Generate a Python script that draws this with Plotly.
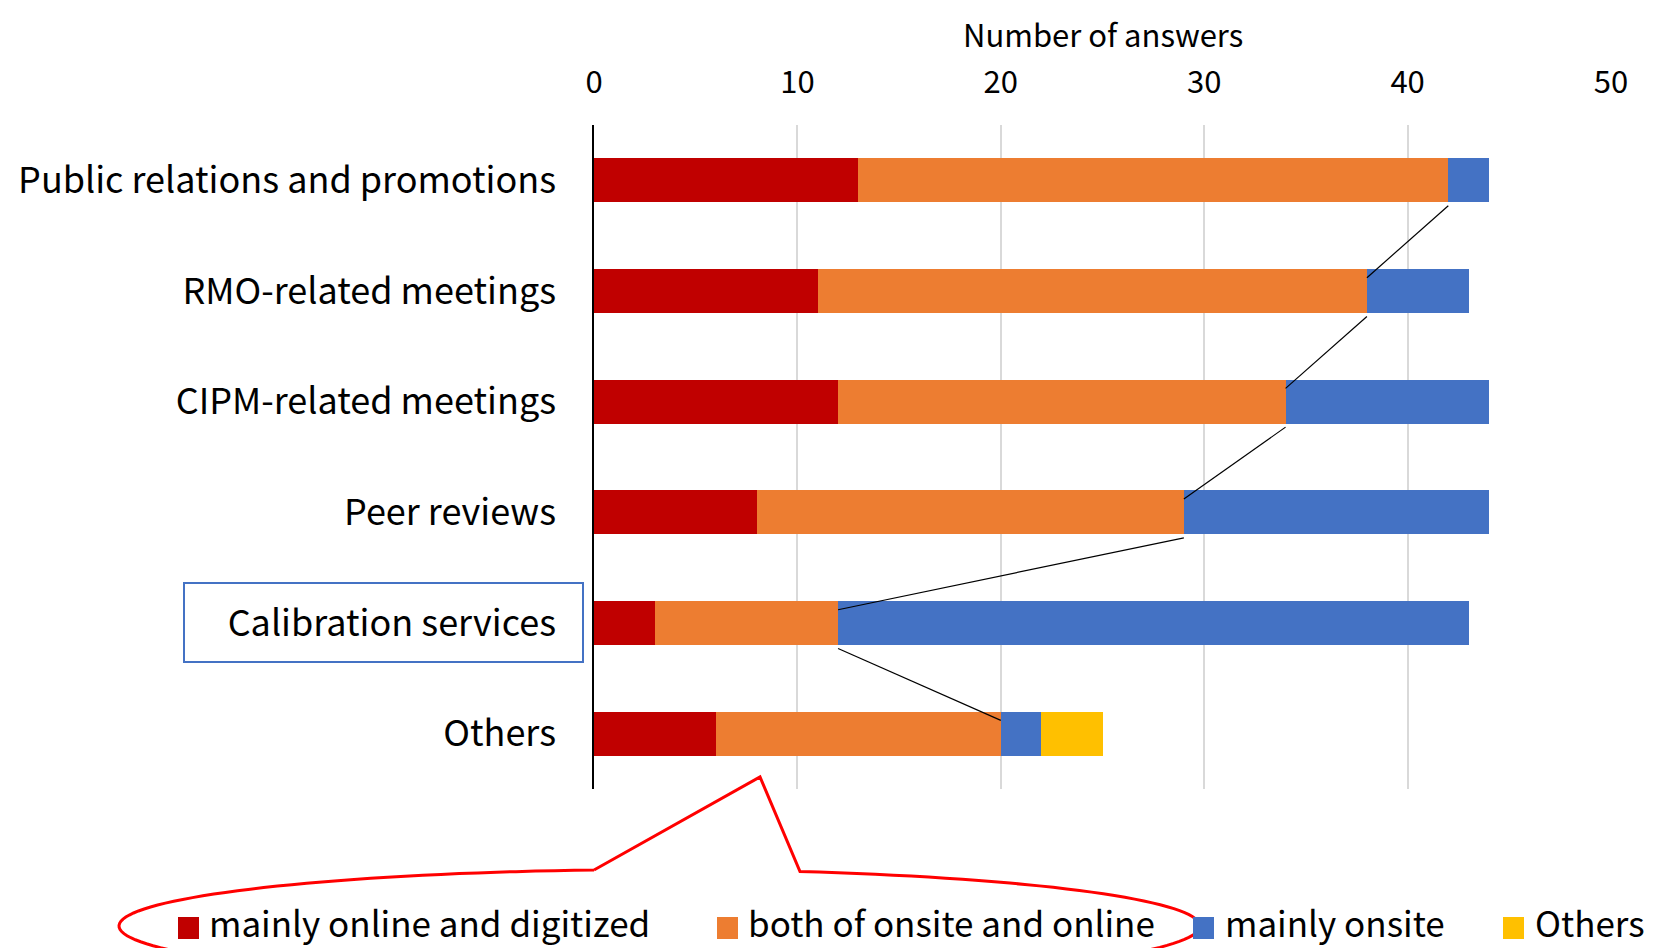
import math
import plotly.graph_objects as go

categories = ["Public relations and promotions", "RMO-related meetings", "CIPM-related meetings",
              "Peer reviews", "Calibration services", "Others"]
series_names = ["mainly online and digitized", "both of onsite and online", "mainly onsite", "Others"]
online = [13, 11, 12, 8, 3, 6]
both = [29, 27, 22, 21, 9, 14]
onsite = [2, 5, 10, 15, 31, 2]
others = [0, 0, 0, 0, 0, 3]
x_ticks = [0, 10, 20, 30, 40, 50]
axis_title = "Number of answers"

colors = ["#C00000", "#ED7D31", "#4472C4", "#FFC000"]
FONT = "Noto Sans CJK JP"

OFF = 8  # page body margin
W, H = 1665 - OFF, 948 - OFF
# plot area in page pixels
L, R, T, B = 594, 1611, 125, 789


def px(x):
    return (x - L) / (R - L)


def py(y):
    return (B - y) / (B - T)


pos = list(range(len(categories)))
fig = go.Figure()
for name, vals, col in zip(series_names, [online, both, onsite, others], colors):
    fig.add_trace(go.Bar(x=vals, y=pos, orientation="h", name=name, width=0.4,
                         marker=dict(color=col, line=dict(width=0)), showlegend=False))

shapes = []
# series lines between orange segment ends
cum = [a + b for a, b in zip(online, both)]
for i in range(len(categories) - 1):
    shapes.append(dict(type="line", xref="x", yref="y", x0=cum[i], y0=i + 0.2 + 0.03,
                       x1=cum[i + 1], y1=i + 1 - 0.2 + 0.08,
                       line=dict(color="black", width=1.2)))

# blue highlight box around "Calibration services"
shapes.append(dict(type="rect", xref="paper", yref="paper", x0=px(184), x1=px(583),
                   y0=py(662), y1=py(583), line=dict(color="#4472C4", width=2),
                   fillcolor="rgba(0,0,0,0)"))

# red callout ellipse with pointer
cx, cy, rx, ry = 659.5, 926, 540.5, 56.4
t0 = math.degrees(math.acos((594 - cx) / rx))
t1 = 360 + math.degrees(math.acos((800 - cx) / rx))
pts = []
n = 160
for k in range(n + 1):
    t = math.radians(t0 + (t1 - t0) * k / n)
    pts.append((cx + rx * math.cos(t), cy - ry * math.sin(t)))
pts.append((760, 777))
pts.append(pts[0])
path = "M " + " L ".join(f"{px(a):.5f},{py(b):.5f}" for a, b in pts)
shapes.append(dict(type="path", xref="paper", yref="paper", path=path,
                   line=dict(color="#FF0000", width=3), fillcolor="rgba(0,0,0,0)"))

# legend (manual)
annotations = []
sq_x = [178, 717, 1193, 1503]
txt_x = [207, 746, 1223, 1533]
for name, col, sx, tx in zip(series_names, colors, sq_x, txt_x):
    shapes.append(dict(type="rect", xref="paper", yref="paper", x0=px(sx), x1=px(sx + 21),
                       y0=py(939), y1=py(917), line=dict(width=0), fillcolor=col))
    annotations.append(dict(xref="paper", yref="paper", x=px(tx), y=py(921), text=name,
                            showarrow=False, xanchor="left", yanchor="middle",
                            font=dict(family=FONT, size=35, color="black")))

# axis title, top-anchored at the figure's top edge
annotations.append(dict(xref="paper", yref="paper", x=0.5, y=py(OFF + 1), text=axis_title,
                        showarrow=False, xanchor="center", yanchor="top",
                        font=dict(family=FONT, size=31, color="black")))

fig.update_layout(
    width=W, height=H, barmode="stack", bargap=0.6,
    margin=dict(l=L - OFF, r=W - (R - OFF), t=T - OFF, b=H - (B - OFF), autoexpand=False),
    paper_bgcolor="white", plot_bgcolor="white",
    font=dict(family=FONT, size=36, color="black"),
    shapes=shapes, annotations=annotations,
    xaxis=dict(side="top", range=[0, 50], tickvals=x_ticks, showgrid=True,
               gridcolor="#D9D9D9", gridwidth=1.5, zeroline=False, showline=False,
               ticks="", ticklabelstandoff=25, tickfont=dict(family=FONT, size=31, color="black"),
               fixedrange=True),
    yaxis=dict(tickvals=pos, ticktext=categories, range=[5.5, -0.5], showgrid=False,
               zeroline=False, showline=True, linecolor="black", linewidth=1.5, ticks="",
               ticklabelstandoff=29, tickfont=dict(family=FONT, size=36, color="black"),
               fixedrange=True),
)

fig.write_html("out.html")
